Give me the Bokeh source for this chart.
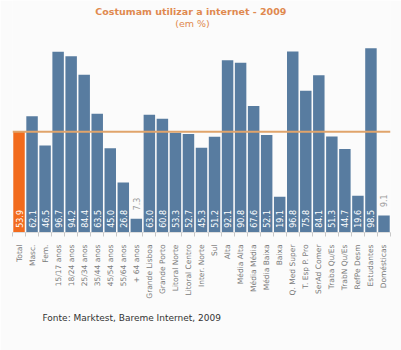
from math import pi
from bokeh.plotting import figure
from bokeh.models import (ColumnDataSource, Span, Label, LinearAxis, Range1d, FixedTicker, Title)
from bokeh.core.properties import value
from bokeh.embed import file_html
from bokeh.resources import INLINE

categories = ["Total", "Masc.", "Fem.", "15/17 anos", "18/24 anos", "25/34 anos",
              "35/44 anos", "45/54 anos", "55/64 anos", "+ 64 anos", "Grande Lisboa",
              "Grande Porto", "Litoral Norte", "Litoral Centro", "Inter. Norte", "Sul",
              "Alta", "Média Alta", "Média Média", "Média Baixa", "Baixa",
              "Q. Med Super", "T. Esp P. Pro", "SerAd Comer", "Traba Qu/Es",
              "TrabN Qu/Es", "RefPe Desm", "Estudantes", "Domésticas"]
values = [53.9, 62.1, 46.5, 96.7, 94.2, 84.4, 63.5, 45.0, 26.8, 7.3, 63.0,
          60.8, 53.3, 52.7, 45.3, 51.2, 92.1, 90.8, 67.6, 52.1, 19.1,
          96.8, 75.8, 84.1, 51.3, 44.7, 19.6, 98.5, 9.1]
total_value = 53.9

BLUE = "#587ca0"
ORANGE = "#f26b1d"
LINE = "#e0a46b"
TITLE_C = "#e0894f"

n = len(categories)
xs = [i + 0.5 for i in range(n)]
bar_colors = [ORANGE if c == "Total" else BLUE for c in categories]
label_y = [v + 4.5 if v < 15 else 2.5 for v in values]
label_colors = ["#9a9a9a" if v < 15 else "white" for v in values]
labels = [f"{v:.1f}" for v in values]

src = ColumnDataSource(dict(x=xs, top=values, color=bar_colors,
                            ly=label_y, lc=label_colors, lt=labels))

p = figure(width=401, height=350, x_range=Range1d(0, n),
           y_range=Range1d(0, 124.06), output_backend="svg", toolbar_location=None,
           x_axis_location=None, y_axis_location=None,
           min_border_left=12, min_border_right=11, min_border_top=0,
           min_border_bottom=118)
p.background_fill_color = "#fbfbfb"
p.border_fill_color = "#fbfbfb"
p.outline_line_color = None
p.grid.visible = False

cat_axis = LinearAxis(ticker=FixedTicker(ticks=xs, minor_ticks=list(range(n + 1))),
                      major_label_overrides={x: c for x, c in zip(xs, categories)},
                      major_tick_out=0, major_tick_in=0, minor_tick_out=4, minor_tick_in=0,
                      minor_tick_line_color="#c8c8c8",
                      axis_line_color="#dddddd",
                      major_label_orientation=pi / 2, major_label_standoff=8,
                      major_label_text_font="DejaVu Sans",
                      major_label_text_font_size="7.5px",
                      major_label_text_color="#7a7a7a")
p.add_layout(cat_axis, "below")

p.vbar(x="x", top="top", width=0.88, bottom=0, fill_color="color", line_color=None, source=src)

p.add_layout(Span(location=total_value, dimension="width", line_color=LINE, line_width=2))

p.text(x="x", y="ly", text="lt", angle=pi / 2, text_align="left", text_baseline="middle",
       text_color="lc", text_font=value("DejaVu Sans"), text_font_size=value("8px"), source=src)

p.add_layout(Label(x=13.81, y=118.2, text="Costumam utilizar a internet  - 2009",
                   text_align="center", text_baseline="middle", text_color=TITLE_C,
                   text_font="DejaVu Sans", text_font_size="9.5px", text_font_style="bold"))
p.add_layout(Label(x=13.81, y=111.8, text="(em %)", text_align="center", text_baseline="middle",
                   text_color=TITLE_C, text_font="DejaVu Sans", text_font_size="9.5px"))

p.add_layout(Title(text="Fonte: Marktest, Bareme Internet, 2009", align="left",
                   text_color="#333333", text_font="DejaVu Sans", text_font_size="9px",
                   text_font_style="normal", standoff=18, offset=30), "below")

open("out.html", "w").write(file_html(p, INLINE))
